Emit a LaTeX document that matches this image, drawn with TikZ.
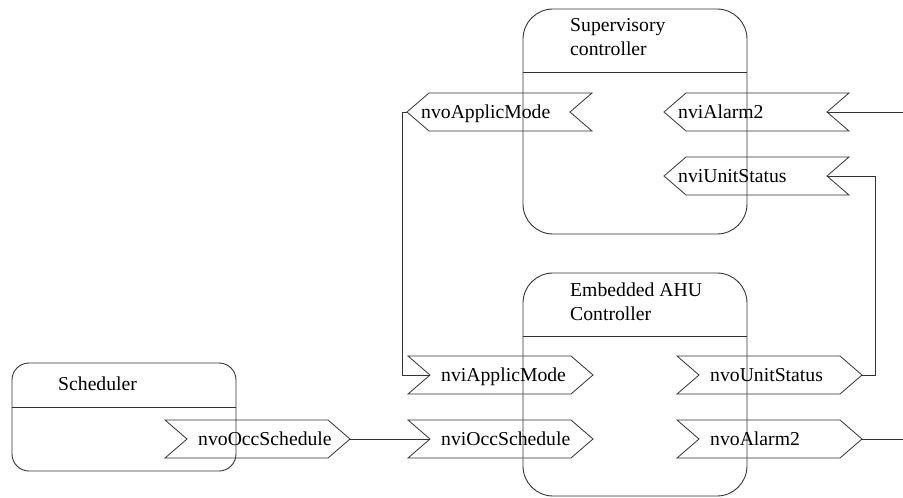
\documentclass[tikz,border=0pt]{standalone}
\usepackage{fontspec}
\setmainfont{Liberation Serif}
\usepackage{tikz}
\usetikzlibrary{calc}

\begin{document}
\begin{tikzpicture}[
  x=1pt, y=-1pt,
  font=\fontsize{19.7}{24.5}\selectfont,
  ctrl/.style={draw=black!80, line width=0.9pt, rounded corners=30pt, minimum width=224pt, inner sep=0pt},
  ctitle/.style={anchor=base west, align=left, inner sep=0pt},
  pinlabel/.style={anchor=west, inner sep=0pt, text height=13pt, text depth=0pt},
  pinline/.style={draw=black!80, line width=0.8pt},
  wire/.style={draw=black!80, line width=0.8pt}
]
\useasboundingbox (0,0) rectangle (903,498);

% Controllers
\node[ctrl, minimum height=225pt] (sup) at (635,121.5) {};
\node[ctrl, minimum height=223pt] (emb) at (635,384.5) {};
\node[ctrl, minimum height=108pt, rounded corners=17pt] (sched) at (124,417) {};

\draw[pinline] ([yshift=-64pt]sup.north west) -- ([yshift=-64pt]sup.north east);
\draw[pinline] ([yshift=-64pt]emb.north west) -- ([yshift=-64pt]emb.north east);
\draw[pinline] ([yshift=-45pt]sched.north west) -- ([yshift=-45pt]sched.north east);

% Titles (base is the last line)
\node[ctitle] (suptitle) at (570,55.5) {Supervisory\\controller};
\node[ctitle] (embtitle) at (570,320.5) {Embedded AHU\\Controller};
\node[ctitle] (schedtitle) at (58,390) {Scheduler};

% Network variables
\node[pinlabel] (nvoApplicMode) at (421,112) {nvoApplicMode};
\node[pinlabel] (nviAlarm2) at (678,112) {nviAlarm2};
\node[pinlabel] (nviUnitStatus) at (678,176) {nviUnitStatus};
\node[pinlabel] (nviApplicMode) at (441,375) {nviApplicMode};
\node[pinlabel] (nviOccSchedule) at (441,439) {nviOccSchedule};
\node[pinlabel] (nvoUnitStatus) at (710,375) {nvoUnitStatus};
\node[pinlabel] (nvoAlarm2) at (710,439) {nvoAlarm2};
\node[pinlabel] (nvoOccSchedule) at (198,439) {nvoOccSchedule};

% Pins pointing left
\foreach \n in {nvoApplicMode, nviAlarm2, nviUnitStatus}
  \draw[pinline] ($(\n.west)+(-14,0)$) coordinate (\n-tip) -- ++(22,-19) -- ++(163,0)
    -- ++(-22,19) coordinate (\n-notch) -- ++(22,19) -- ++(-163,0) -- cycle;

% Pins pointing right
\foreach \n in {nviApplicMode, nviOccSchedule, nvoUnitStatus, nvoAlarm2, nvoOccSchedule}
  \draw[pinline] ($(\n.west)+(-33,-19)$) -- ++(163,0) -- ++(22,19) coordinate (\n-tip)
    -- ++(-22,19) -- ++(-163,0) -- ++(22,-19) coordinate (\n-notch) -- cycle;

% Bindings
\coordinate (alarmin) at (903,112);
\coordinate (alarmout) at (903,439);
\draw[wire] (nvoApplicMode-tip) -- ++(-5,0) |- (nviApplicMode-notch);
\draw[wire] (nvoOccSchedule-tip) -- (nviOccSchedule-notch);
\draw[wire] (nvoUnitStatus-tip) -- ++(13,0) |- (nviUnitStatus-notch);
\draw[wire] (nviAlarm2-notch) -- (alarmin);
\draw[wire] (nvoAlarm2-tip) -- (alarmout);

\end{tikzpicture}
\end{document}
